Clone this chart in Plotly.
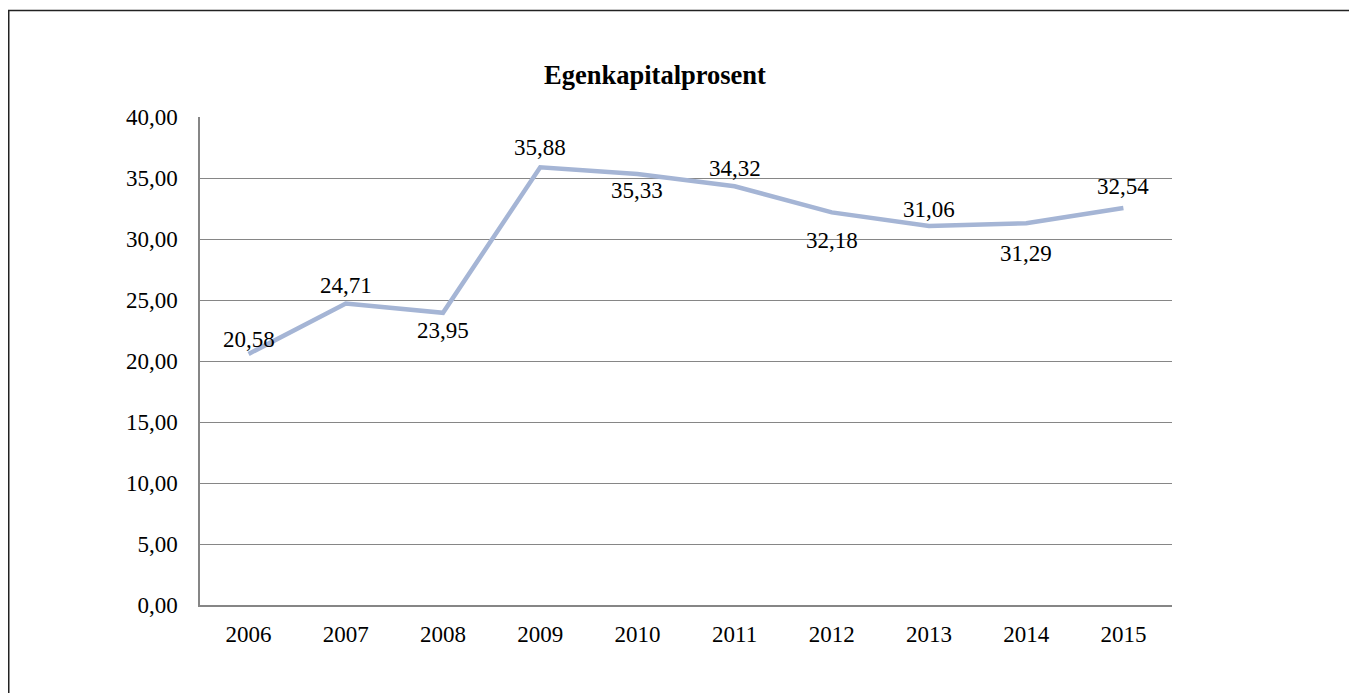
import plotly.graph_objects as go

years = ["2006", "2007", "2008", "2009", "2010", "2011", "2012", "2013", "2014", "2015"]
equity_pct = [20.58, 24.71, 23.95, 35.88, 35.33, 34.32, 32.18, 31.06, 31.29, 32.54]
label_side = ["above", "above", "below", "above", "below", "above", "below", "above", "below", "above"]
label_gap = [14, 18, 18, 20, 17, 18, 28, 17, 30, 22]

OFF = 8  # page body margin
W, H = 1357 - OFF, 693 - OFF
L, R, T, B = 200 - OFF, 1172 - OFF, 117 - OFF, 605 - OFF
FONT = "Liberation Serif, Times New Roman, serif"

fig = go.Figure()
fig.add_trace(go.Scatter(
    x=years, y=equity_pct, mode="lines",
    line=dict(color="#A5B5D5", width=4.5),
    hoverinfo="skip", showlegend=False,
))

for i, (v, side, gap) in enumerate(zip(equity_pct, label_side, label_gap)):
    txt = f"{v:.2f}".replace(".", ",")
    fig.add_annotation(
        x=i, y=v, xref="x", yref="y", text=txt, showarrow=False,
        yshift=gap if side == "above" else -gap,
        yanchor="middle", xanchor="center",
        font=dict(family=FONT, size=23, color="black"),
    )

def px_x(p):
    return (p - L) / (R - L)

def px_y(p):
    return (B - p) / (B - T)

# outer chart border
fig.add_shape(type="rect", xref="paper", yref="paper",
              x0=px_x(0.75), x1=px_x(1500), y0=px_y(800), y1=px_y(2.5),
              line=dict(color="#222222", width=1.5), fillcolor="rgba(0,0,0,0)", layer="below")

fig.update_layout(
    width=W, height=H,
    margin=dict(l=L, r=W - R, t=T, b=H - B, autoexpand=False),
    paper_bgcolor="white", plot_bgcolor="white",
    separators=",.",
    title=dict(text="<b>Egenkapitalprosent</b>", x=(655 - OFF) / W, xref="container",
               y=1 - (75 - OFF) / H, yref="container", xanchor="center", yanchor="middle",
               font=dict(family=FONT, size=26.5, color="black")),
    font=dict(family=FONT, size=23, color="black"),
    xaxis=dict(
        type="category", range=[-0.5, 9.5], showgrid=False,
        showline=True, linecolor="#868686", linewidth=1.5,
        ticks="", ticklabelstandoff=8,
        tickfont=dict(family=FONT, size=23, color="black"),
        fixedrange=True,
    ),
    yaxis=dict(
        range=[0, 40], dtick=5, tick0=0, tickformat=".2f",
        showgrid=True, gridcolor="#868686", gridwidth=1,
        showline=True, linecolor="#868686", linewidth=1.5,
        zeroline=False, ticks="", ticklabelstandoff=16,
        tickfont=dict(family=FONT, size=23, color="black"),
        fixedrange=True,
    ),
)

fig.write_html("out.html")
